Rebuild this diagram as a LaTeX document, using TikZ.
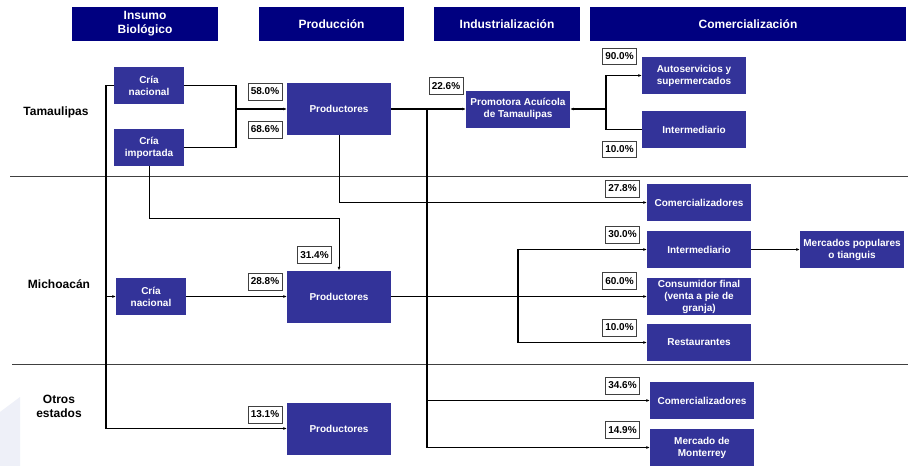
\documentclass[tikz,border=0pt]{standalone}
\usepackage{fontspec}
\setmainfont{Liberation Sans}
\usetikzlibrary{arrows.meta}

\definecolor{navyhead}{HTML}{000080}
\definecolor{stagebox}{HTML}{333399}
\definecolor{wmark}{HTML}{EEF0F8}

\tikzset{
  hdr/.style={fill=navyhead, text=white, inner sep=0pt, minimum height=34pt,
    align=center, font=\bfseries\fontsize{12}{14}\selectfont},
  blk/.style={fill=stagebox, text=white, inner sep=0pt, minimum width=104pt,
    minimum height=37pt, align=center, font=\bfseries\fontsize{10}{12}\selectfont},
  crbox/.style={blk, minimum width=70pt},
  pbox/.style={blk, minimum height=52pt},
  pct/.style={draw=black!75, line width=0.8pt, fill=white, inner sep=0pt,
    minimum width=34pt, minimum height=17pt, font=\bfseries\fontsize{10}{12}\selectfont},
  region/.style={align=center, font=\bfseries\fontsize{12}{14}\selectfont},
  link/.style={line width=1.4pt, draw=black},
  thinlink/.style={line width=1pt, draw=black},
  flow/.style={link, -{Latex[length=3.5pt,width=3pt]}},
  thinflow/.style={thinlink, -{Latex[length=3.5pt,width=3pt]}},
  sep/.style={line width=0.9pt, draw=black!75},
}

\begin{document}
\begin{tikzpicture}[x=1pt, y=-1pt]
  \useasboundingbox (0,0) rectangle (908,466);
  \fill[white] (0,0) rectangle (908,466);
  % faint corner mark
  \fill[wmark] (0,412) -- (20,397) -- (20,466) -- (0,466) -- cycle;

  % stage headers
  \node[hdr, minimum width=146pt] (hInsumo) at (145,24) {Insumo\\Biológico};
  \node[hdr, minimum width=145pt] (hProd) at (331.5,24) {Producción};
  \node[hdr, minimum width=146pt] (hInd) at (507,24) {Industrialización};
  \node[hdr, minimum width=316pt] (hCom) at (748,24) {Comercialización};

  % region separators
  \draw[sep] (10,176) -- (908,176);
  \draw[sep] (12,364) -- (908,364);

  % region names
  \node[region] (rTam) at (56,112) {Tamaulipas};
  \node[region] (rMich) at (59,284) {Michoacán};
  \node[region] (rOtros) at (59,406) {Otros\\estados};

  % Tamaulipas
  \node[crbox] (criaNT) at (149,85.5) {Cría\\nacional};
  \node[crbox] (criaImp) at (149,147.5) {Cría\\importada};
  \node[pbox] (prodT) at (339,109) {Productores};
  \node[blk] (promotora) at (518,109) {Promotora Acuícola\\de Tamaulipas};
  \node[blk] (autoserv) at (694,75.5) {Autoservicios y\\supermercados};
  \node[blk] (intermT) at (694,129.5) {Intermediario};

  % Michoacán
  \node[blk] (comerT) at (699,202.5) {Comercializadores};
  \node[crbox] (criaNM) at (151,296.5) {Cría\\nacional};
  \node[pbox] (prodM) at (339,296.5) {Productores};
  \node[blk] (intermM) at (699,249.5) {Intermediario};
  \node[blk] (mercados) at (852,249.5) {Mercados populares\\o tianguis};
  \node[blk] (consumidor) at (699,296.5) {Consumidor final\\(venta a pie de\\granja)};
  \node[blk] (restaurantes) at (699,342.5) {Restaurantes};

  % Otros estados
  \node[pbox] (prodO) at (339,428.5) {Productores};
  \node[blk] (comerO) at (702,400.5) {Comercializadores};
  \node[blk] (monterrey) at (702,447.5) {Mercado de\\Monterrey};

  % junction points
  \coordinate (trTop) at (106,85.5);
  \coordinate (trBot) at (106,428.5);
  \coordinate (mergeT) at (236,109);
  \coordinate (impBend) at (149,218);
  \coordinate (indTop) at (427,109);
  \coordinate (indBot) at (427,447.5);
  \coordinate (promoJ) at (606,109);
  \coordinate (michJ) at (518,296.5);

  % supply trunk
  \draw[link] (criaNT.west) -- (trTop) -- (trBot);
  \draw[flow] (trBot) -- (prodO.west);
  \draw[thinflow] (trTop |- criaNM.west) -- (criaNM.west);

  % Tamaulipas flows
  \draw[link] (criaNT.east) -| (mergeT);
  \draw[link] (mergeT) |- (criaImp.east);
  \draw[flow] (mergeT) -- (prodT.west);
  \draw[thinflow] (criaImp.south) -- (impBend) -| (prodM.north);
  \draw[thinflow] (prodT.south) |- (comerT.west);
  \draw[flow] (prodT.east) -- (promotora.west);
  \draw[flow] (promoJ) -- (promotora.east);
  \draw[flow] (promoJ) |- (autoserv.west);
  \draw[link] (promoJ) |- (intermT.west);

  % industrialization trunk
  \draw[link] (indTop) -- (indBot);
  \draw[flow] (indBot) -- (monterrey.west);
  \draw[flow] (indTop |- comerO.west) -- (comerO.west);

  % Michoacán flows
  \draw[thinflow] (criaNM.east) -- (prodM.west);
  \draw[flow] (prodM.east) -- (consumidor.west);
  \draw[flow] (michJ) |- (intermM.west);
  \draw[flow] (michJ) |- (restaurantes.west);
  \draw[flow] (intermM.east) -- (mercados.west);

  % shares
  \node[pct] (p580) at (265,91.5) {58.0\%};
  \node[pct] (p686) at (265,129.5) {68.6\%};
  \node[pct] (p226) at (446,86) {22.6\%};
  \node[pct, minimum height=16pt] (p900) at (619.5,56.5) {90.0\%};
  \node[pct, minimum height=16pt] (p100T) at (619.5,149.5) {10.0\%};
  \node[pct] (p278) at (622.5,188.5) {27.8\%};
  \node[pct] (p314) at (314.5,255) {31.4\%};
  \node[pct] (p288) at (265,281.5) {28.8\%};
  \node[pct] (p300) at (622.5,234.5) {30.0\%};
  \node[pct] (p600) at (619.5,281) {60.0\%};
  \node[pct] (p100M) at (619.5,327.5) {10.0\%};
  \node[pct] (p346) at (622.5,385.5) {34.6\%};
  \node[pct] (p131) at (265,414.5) {13.1\%};
  \node[pct] (p149) at (622.5,430) {14.9\%};
\end{tikzpicture}
\end{document}
